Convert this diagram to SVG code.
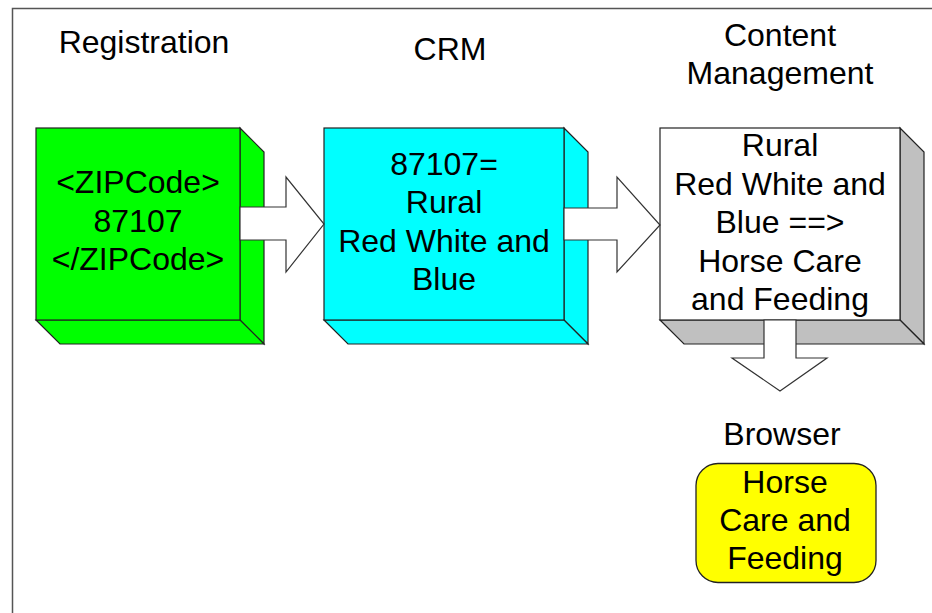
<svg xmlns="http://www.w3.org/2000/svg" width="932" height="613" viewBox="0 0 932 613">
  <style>
    text { font-family: "Liberation Sans", Arial, sans-serif; font-size: 32px; fill: #000; text-anchor: middle; }
    .edge { stroke: #222; stroke-width: 1.2; stroke-linejoin: miter; }
    .arrow { fill: #fff; stroke: #333; stroke-width: 1.2; }
  </style>
  <rect width="932" height="613" fill="#fff"/>
  <!-- page frame -->
  <path d="M12.5 613 V8.5 H932" fill="none" stroke="#555" stroke-width="1.5"/>

  <!-- column titles -->
  <g id="titles">
    <text x="144" y="53">Registration</text>
    <text x="450" y="60">CRM</text>
    <text x="780" y="46">Content</text>
    <text x="780" y="84">Management</text>
    <text x="782" y="445">Browser</text>
  </g>

  <!-- Registration node: extruded block -->
  <g id="registration">
    <polygon class="edge" fill="#00ff00" points="240,128 264,152 264,344 240,320"/>
    <polygon class="edge" fill="#00ff00" points="36,320 240,320 264,344 60,344"/>
    <rect class="edge" fill="#00ff00" x="36" y="128" width="204" height="192"/>
    <text x="138" y="193">&lt;ZIPCode&gt;</text>
    <text x="138" y="232">87107</text>
    <text x="138" y="270">&lt;/ZIPCode&gt;</text>
  </g>

  <!-- CRM node -->
  <g id="crm">
    <polygon class="edge" fill="#00ffff" points="564,128 588,152 588,344 564,320"/>
    <polygon class="edge" fill="#00ffff" points="324,320 564,320 588,344 348,344"/>
    <rect class="edge" fill="#00ffff" x="324" y="128" width="240" height="192"/>
    <text x="444" y="175">87107=</text>
    <text x="444" y="213">Rural</text>
    <text x="444" y="252">Red White and</text>
    <text x="444" y="290">Blue</text>
  </g>

  <!-- Content Management node -->
  <g id="content-management">
    <polygon class="edge" fill="#c0c0c0" points="900,128 924,152 924,344 900,320"/>
    <polygon class="edge" fill="#c0c0c0" points="660,320 900,320 924,344 684,344"/>
    <rect class="edge" fill="#ffffff" x="660" y="128" width="240" height="192"/>
    <text x="780" y="156">Rural</text>
    <text x="780" y="195">Red White and</text>
    <text x="780" y="233">Blue ==&gt;</text>
    <text x="780" y="272">Horse Care</text>
    <text x="780" y="310">and Feeding</text>
  </g>

  <!-- Browser node -->
  <g id="browser">
    <rect x="696" y="463.5" width="180" height="119" rx="22" fill="#ffff00" stroke="#222" stroke-width="1.3"/>
    <text x="785" y="493">Horse</text>
    <text x="785" y="531">Care and</text>
    <text x="785" y="569">Feeding</text>
  </g>

  <!-- block arrows between stages -->
  <g id="connectors">
    <polygon class="arrow" points="240,207 286,207 286,177 324,224 286,272 286,240 240,240"/>
    <polygon class="arrow" points="564,208 617,208 617,177 660,225 617,272 617,240 564,240"/>
    <polygon class="arrow" points="764,320 796,320 796,358 827,358 780,391 732,358 764,358"/>
  </g>
</svg>
